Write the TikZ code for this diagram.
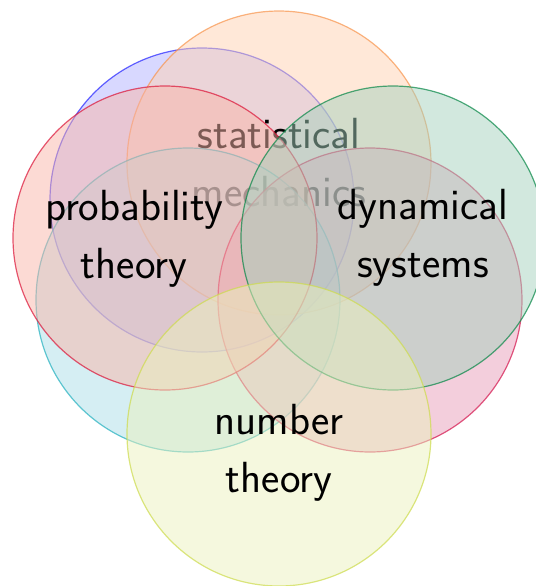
\documentclass[tikz,border=0pt]{standalone}
\begin{document}
\begin{tikzpicture}[x=0.5pt,y=-0.5pt,
  venn/.style={circle, inner sep=0pt, minimum size=152pt, fill opacity=0.5, draw opacity=0.7, line width=0.6pt},
  lbl/.style={align=center, font=\sffamily\fontsize{21.8}{29}\selectfont, text=black}]
\definecolor{fblue}{RGB}{177,177,255}
\definecolor{forange}{RGB}{255,209,177}
\definecolor{fgreen}{RGB}{165,209,189}
\definecolor{fred}{RGB}{249,181,169}
\definecolor{fcyan}{RGB}{171,221,231}
\definecolor{fpink}{RGB}{231,157,185}
\definecolor{fyellow}{RGB}{235,241,189}
\definecolor{sblue}{RGB}{34,34,255}
\definecolor{sorange}{RGB}{248,148,76}
\definecolor{sgreen}{RGB}{5,134,69}
\definecolor{sred}{RGB}{219,19,55}
\definecolor{scyan}{RGB}{34,176,191}
\definecolor{spink}{RGB}{212,19,76}
\definecolor{syellow}{RGB}{205,219,76}
\useasboundingbox (0,0) rectangle (536,586);
\node[venn, draw=sblue, fill=fblue] (blue) at (202,200) {};
\node[venn, draw=sorange, fill=forange] (orange) at (279,163) {};
\node[lbl] (stat) at (279,163) {statistical\\mechanics};
\node[venn, draw=scyan, fill=fcyan] (cyan) at (188,300) {};
\node[venn, draw=spink, fill=fpink] (pink) at (370,300) {};
\node[venn, draw=sred, fill=fred] (red) at (165,238) {};
\node[venn, draw=sgreen, fill=fgreen] (green) at (393,238) {};
\node[venn, draw=syellow, fill=fyellow] (yellow) at (279,434) {};
\node[lbl] (prob) at (134,239) {probability\\theory};
\node[lbl] (dyn) at (423,238) {dynamical\\systems};
\node[lbl] (num) at (279,453) {number\\theory};
\end{tikzpicture}
\end{document}
